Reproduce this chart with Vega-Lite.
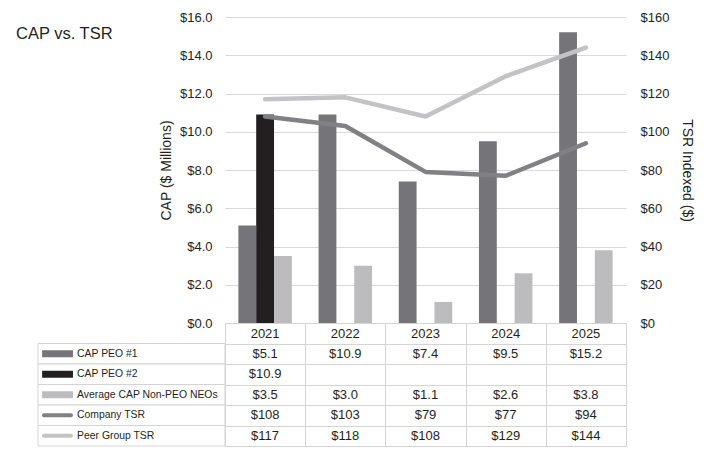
{
  "$schema": "https://vega.github.io/schema/vega-lite/v6.json",
  "background": "white",
  "padding": {"left": 16, "top": 11, "right": 14, "bottom": 3},
  "columns": 2,
  "spacing": 0,
  "bounds": "flush",
  "config": {
    "view": {"stroke": null},
    "font": "Liberation Sans",
    "text": {"font": "Liberation Sans"},
    "axis": {"labelFont": "Liberation Sans", "titleFont": "Liberation Sans"}
  },
  "datasets": {
    "cap": [
      {"year": "2021", "series": "CAP PEO #1", "value": 5.1},
      {"year": "2021", "series": "CAP PEO #2", "value": 10.9},
      {"year": "2021", "series": "Average CAP Non-PEO NEOs", "value": 3.5},
      {"year": "2022", "series": "CAP PEO #1", "value": 10.9},
      {"year": "2022", "series": "Average CAP Non-PEO NEOs", "value": 3.0},
      {"year": "2023", "series": "CAP PEO #1", "value": 7.4},
      {"year": "2023", "series": "Average CAP Non-PEO NEOs", "value": 1.1},
      {"year": "2024", "series": "CAP PEO #1", "value": 9.5},
      {"year": "2024", "series": "Average CAP Non-PEO NEOs", "value": 2.6},
      {"year": "2025", "series": "CAP PEO #1", "value": 15.2},
      {"year": "2025", "series": "Average CAP Non-PEO NEOs", "value": 3.8}
    ],
    "tsr": [
      {"year": "2021", "series": "Company TSR", "value": 108},
      {"year": "2022", "series": "Company TSR", "value": 103},
      {"year": "2023", "series": "Company TSR", "value": 79},
      {"year": "2024", "series": "Company TSR", "value": 77},
      {"year": "2025", "series": "Company TSR", "value": 94},
      {"year": "2021", "series": "Peer Group TSR", "value": 117},
      {"year": "2022", "series": "Peer Group TSR", "value": 118},
      {"year": "2023", "series": "Peer Group TSR", "value": 108},
      {"year": "2024", "series": "Peer Group TSR", "value": 129},
      {"year": "2025", "series": "Peer Group TSR", "value": 144}
    ],
    "rows": [
      {"series": "CAP PEO #1", "kind": "bar"},
      {"series": "CAP PEO #2", "kind": "bar"},
      {"series": "Average CAP Non-PEO NEOs", "kind": "bar"},
      {"series": "Company TSR", "kind": "line"},
      {"series": "Peer Group TSR", "kind": "line"}
    ]
  },
  "concat": [
    {
      "width": 187,
      "height": 306,
      "title": {"text": "CAP vs. TSR", "anchor": "start", "frame": "group", "fontSize": 16.5, "fontWeight": "normal", "color": "#231f20", "font": "Liberation Sans", "baseline": "middle", "offset": -15, "dx": -22, "dy": 18},
      "data": {"values": [{"t": ""}]},
      "mark": {"type": "text", "text": ""}
    },
    {
      "width": 401,
      "height": 306,
      "layer": [
        {
          "data": {"name": "cap"},
          "mark": {"type": "bar"},
          "encoding": {
            "x": {"field": "year", "type": "nominal", "scale": {"domain": ["2021", "2022", "2023", "2024", "2025"], "paddingInner": 0.333, "paddingOuter": 0.1667},
                  "axis": {"title": null, "orient": "bottom", "domain": false, "ticks": false, "labelPadding": 4, "labelFontSize": 13, "labelColor": "#231f20", "labelAngle": 0}},
            "xOffset": {"field": "series", "type": "nominal", "scale": {"domain": ["CAP PEO #1", "CAP PEO #2", "Average CAP Non-PEO NEOs"], "paddingInner": 0, "paddingOuter": 0}},
            "y": {"field": "value", "type": "quantitative", "scale": {"domain": [0, 16], "nice": false},
                  "axis": {"orient": "left", "values": [0, 2, 4, 6, 8, 10, 12, 14, 16], "format": "$.1f", "grid": true, "gridColor": "#d9d9d9", "domain": false, "ticks": false, "labelPadding": 13, "labelFontSize": 13, "labelColor": "#231f20", "title": "CAP ($ Millions)", "titleFontSize": 14, "titleFontWeight": "normal", "titleColor": "#231f20", "titlePadding": 6}},
            "color": {"field": "series", "type": "nominal", "legend": null,
                      "scale": {"domain": ["CAP PEO #1", "CAP PEO #2", "Average CAP Non-PEO NEOs", "Company TSR", "Peer Group TSR"], "range": ["#757478", "#231f20", "#bcbcbf", "#818185", "#c3c3c5"]}}
          }
        },
        {
          "data": {"name": "tsr"},
          "mark": {"type": "line", "strokeWidth": 4.5, "strokeCap": "round", "strokeJoin": "round"},
          "encoding": {
            "x": {"field": "year", "type": "nominal"},
            "y": {"field": "value", "type": "quantitative", "scale": {"domain": [0, 160], "nice": false},
                  "axis": {"orient": "right", "values": [0, 20, 40, 60, 80, 100, 120, 140, 160], "format": "$.0f", "grid": false, "domain": false, "ticks": false, "labelPadding": 14, "labelFontSize": 13, "labelColor": "#231f20", "title": "TSR Indexed ($)", "titleFontSize": 14, "titleFontWeight": "normal", "titleColor": "#231f20", "titlePadding": 11}},
            "color": {"field": "series", "type": "nominal", "legend": null,
                      "scale": {"domain": ["CAP PEO #1", "CAP PEO #2", "Average CAP Non-PEO NEOs", "Company TSR", "Peer Group TSR"], "range": ["#757478", "#231f20", "#bcbcbf", "#818185", "#c3c3c5"]}}
          }
        }
      ],
      "resolve": {"scale": {"y": "independent"}}
    },
    {
      "width": 187,
      "height": 123,
      "data": {"name": "rows"},
      "encoding": {
        "y": {"field": "series", "type": "nominal", "axis": null,
              "scale": {"domain": ["Year", "CAP PEO #1", "CAP PEO #2", "Average CAP Non-PEO NEOs", "Company TSR", "Peer Group TSR"], "paddingInner": 0, "paddingOuter": 0}}
      },
      "layer": [
        {
          "mark": {"type": "rect", "fill": "white", "stroke": "#d4d4d4", "strokeWidth": 1},
          "encoding": {
            "x": {"datum": 0, "type": "quantitative", "scale": {"domain": [0, 1], "nice": false}, "axis": null},
            "x2": {"datum": 1}
          }
        },
        {
          "transform": [{"filter": "datum.kind === 'bar'"}],
          "mark": {"type": "rule", "strokeWidth": 7},
          "encoding": {
            "x": {"datum": 0.022, "type": "quantitative"},
            "x2": {"datum": 0.187},
            "color": {"field": "series", "type": "nominal", "legend": null,
                      "scale": {"domain": ["CAP PEO #1", "CAP PEO #2", "Average CAP Non-PEO NEOs", "Company TSR", "Peer Group TSR"], "range": ["#757478", "#231f20", "#bcbcbf", "#818185", "#c3c3c5"]}}
          }
        },
        {
          "transform": [{"filter": "datum.kind === 'line'"}],
          "mark": {"type": "rule", "strokeWidth": 4, "strokeCap": "round"},
          "encoding": {
            "x": {"datum": 0.032, "type": "quantitative"},
            "x2": {"datum": 0.176},
            "color": {"field": "series", "type": "nominal", "legend": null,
                      "scale": {"domain": ["CAP PEO #1", "CAP PEO #2", "Average CAP Non-PEO NEOs", "Company TSR", "Peer Group TSR"], "range": ["#757478", "#231f20", "#bcbcbf", "#818185", "#c3c3c5"]}}
          }
        },
        {
          "mark": {"type": "text", "align": "left", "baseline": "middle", "fontSize": 10.4, "color": "#231f20"},
          "encoding": {
            "x": {"datum": 0.209, "type": "quantitative"},
            "text": {"field": "series", "type": "nominal"}
          }
        }
      ]
    },
    {
      "width": 401,
      "height": 123,
      "view": {"stroke": "#d4d4d4"},
      "encoding": {
        "x": {"field": "year", "type": "nominal",
              "scale": {"domain": ["2021", "2022", "2023", "2024", "2025"], "paddingInner": 0, "paddingOuter": 0},
              "axis": {"tickBand": "extent", "grid": true, "gridColor": "#d4d4d4", "labels": false, "ticks": false, "domain": false, "title": null}},
        "y": {"field": "series", "type": "nominal",
              "scale": {"domain": ["Year", "CAP PEO #1", "CAP PEO #2", "Average CAP Non-PEO NEOs", "Company TSR", "Peer Group TSR"], "paddingInner": 0, "paddingOuter": 0},
              "axis": {"tickBand": "extent", "grid": true, "gridColor": "#d4d4d4", "labels": false, "ticks": false, "domain": false, "title": null}}
      },
      "layer": [
        {
          "data": {"name": "cap"},
          "mark": {"type": "text", "fontSize": 13, "color": "#231f20", "baseline": "middle"},
          "encoding": {"text": {"field": "value", "type": "quantitative", "format": "$.1f"}}
        },
        {
          "data": {"name": "tsr"},
          "mark": {"type": "text", "fontSize": 13, "color": "#231f20", "baseline": "middle"},
          "encoding": {"text": {"field": "value", "type": "quantitative", "format": "$.0f"}}
        }
      ]
    }
  ]
}
